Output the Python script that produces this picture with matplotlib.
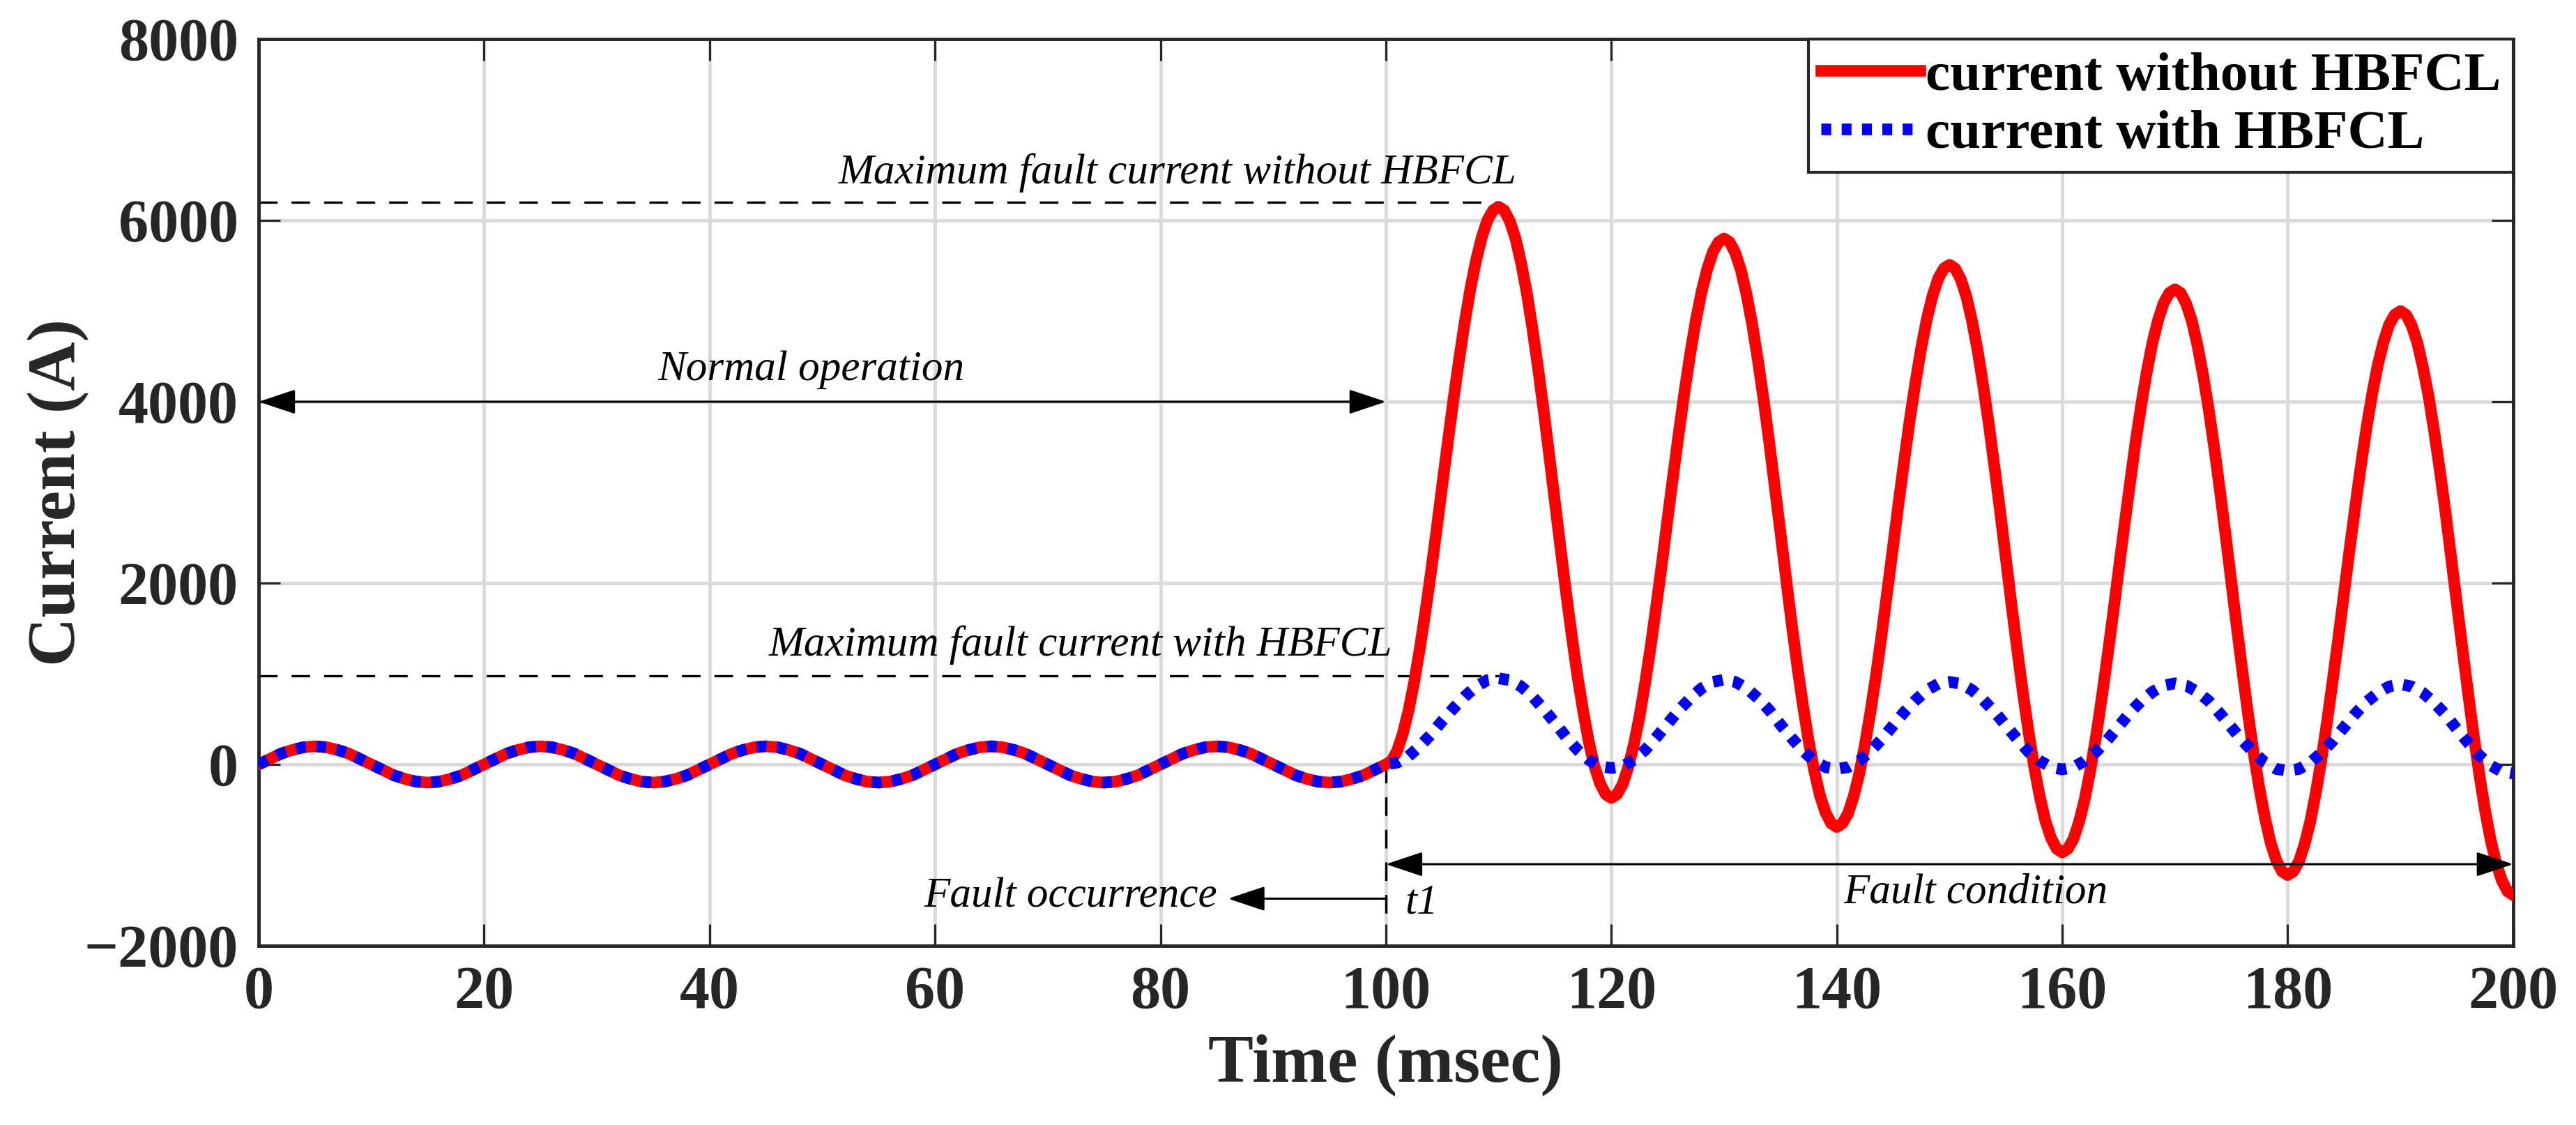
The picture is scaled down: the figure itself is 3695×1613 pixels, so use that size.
import numpy as np
import matplotlib
matplotlib.use('Agg')
import matplotlib.pyplot as plt

# --- Data (time in msec, current in A) ---
normal_time = np.arange(0, 100)  # 1 ms samples before the fault
normal_current = [
    0, 60, 120, 160, 190, 200, 190, 160, 120, 60, 0, -60, -120, -160, -190, -200, -190, -160, -120, -60,
    0, 60, 120, 160, 190, 200, 190, 160, 120, 60, 0, -60, -120, -160, -190, -200, -190, -160, -120, -60,
    0, 60, 120, 160, 190, 200, 190, 160, 120, 60, 0, -60, -120, -160, -190, -200, -190, -160, -120, -60,
    0, 60, 120, 160, 190, 200, 190, 160, 120, 60, 0, -60, -120, -160, -190, -200, -190, -160, -120, -60,
    0, 60, 120, 160, 190, 200, 190, 160, 120, 60, 0, -60, -120, -160, -190, -200, -190, -160, -120, -60,
]

# without HBFCL: read every 0.5 ms (the peaks are sharp)
fault_time_without = np.arange(100, 200.5, 0.5)
fault_current_without = [
    0,
    40, 150, 340, 590, 900, 1270, 1680, 2120, 2590, 3080, 3560, 4030, 4470, 4880, 5250, 5560, 5810, 6000, 6110, 6150,
    6110, 5990, 5800, 5530, 5200, 4810, 4370, 3900, 3400, 2890, 2380, 1880, 1410, 970, 590, 250, -20, -210, -330, -370,
    -330, -220, -30, 220, 530, 900, 1310, 1760, 2230, 2720, 3200, 3670, 4120, 4530, 4900, 5210, 5460, 5650, 5760, 5800,
    5760, 5640, 5450, 5180, 4850, 4460, 4030, 3560, 3060, 2560, 2050, 1550, 1080, 650, 260, -70, -340, -530, -650, -690,
    -650, -540, -350, -100, 220, 590, 1000, 1450, 1930, 2410, 2900, 3370, 3820, 4230, 4600, 4920, 5170, 5360, 5470, 5510,
    5470, 5350, 5160, 4890, 4560, 4170, 3740, 3270, 2780, 2270, 1760, 1270, 800, 370, -20, -350, -620, -810, -930, -970,
    -930, -820, -630, -380, -60, 310, 730, 1180, 1650, 2140, 2620, 3090, 3550, 3960, 4330, 4650, 4900, 5090, 5200, 5240,
    5200, 5080, 4890, 4620, 4290, 3910, 3480, 3010, 2520, 2010, 1500, 1010, 540, 110, -270, -600, -870, -1060, -1180, -1220,
    -1180, -1070, -880, -630, -310, 60, 480, 930, 1400, 1890, 2380, 2850, 3300, 3720, 4090, 4410, 4660, 4850, 4960, 5000,
    4960, 4840, 4650, 4380, 4060, 3670, 3240, 2780, 2280, 1780, 1280, 790, 320, -110, -500, -830, -1090, -1280, -1400, -1440,
]

# with HBFCL: read every 1 ms
fault_time_with = np.arange(100, 201)
fault_current_with = [
    0,
    20, 90, 200, 330, 480, 620, 750, 860, 930, 950,
    930, 860, 750, 610, 460, 300, 160, 50, -20, -40,
    -20, 50, 160, 300, 450, 600, 730, 840, 910, 935,
    910, 840, 730, 600, 440, 290, 150, 40, -30, -50,
    -30, 40, 150, 280, 430, 580, 710, 820, 890, 910,
    890, 820, 710, 580, 430, 280, 140, 40, -30, -55,
    -30, 40, 140, 270, 420, 570, 700, 800, 870, 895,
    870, 800, 700, 560, 410, 260, 130, 20, -50, -70,
    -50, 20, 130, 260, 410, 560, 690, 790, 860, 885,
    860, 790, 680, 550, 390, 240, 100, -10, -80, -100,
]

time_without = np.concatenate([normal_time, fault_time_without])
current_without = np.concatenate([normal_current, fault_current_without])
time_with = np.concatenate([normal_time, fault_time_with])
current_with = np.concatenate([normal_current, fault_current_with])

x_ticks = np.arange(0, 201, 20)
y_ticks = np.arange(-2000, 8001, 2000)

# levels / times used by the annotations
fault_start = 100
first_peak_time = 110
max_without_level = 6200
max_with_level = 980
normal_arrow_level = 4000
fault_arrow_level = -1100
occurrence_arrow_level = -1480
occurrence_arrow_end = 86

# --- Figure setup ---
plt.rcParams['font.family'] = ['Liberation Serif', 'DejaVu Serif']
plt.rcParams['font.weight'] = 'bold'
plt.rcParams['axes.labelweight'] = 'bold'

fig = plt.figure(figsize=(36.95, 16.13), dpi=100)
ax = fig.add_axes([0.1004, 0.1593, 0.8752, 0.806])

ax.plot(time_without, current_without, color='red', lw=12, label='current without HBFCL', zorder=3)
ax.plot(time_with, current_with, color='blue', lw=12, linestyle=(0, (0.85, 0.9)),
        label='current with HBFCL', zorder=4)

ax.set_xlim(0, 200)
ax.set_ylim(-2000, 8000)
ax.set_xticks(x_ticks)
ax.set_yticks(y_ticks)
ax.grid(True, color='#dadada', lw=3.5)
ax.set_axisbelow(True)

for spine in ax.spines.values():
    spine.set_linewidth(3.5)
    spine.set_color('#262626')
ax.tick_params(direction='in', length=22, width=2.2, top=True, right=True,
               labelsize=62, pad=21, color='#262626', labelcolor='#262626')

ax.set_xlabel('Time (msec)', fontsize=70, fontweight='bold', color='#262626')
ax.xaxis.set_label_coords(0.5, -0.097)
ax.set_ylabel('Current (A)', fontsize=70, fontweight='bold', color='#262626')
ax.yaxis.set_label_coords(-0.0751, 0.5)

# --- Annotations ---
dash = (0, (8, 6))
ax.plot([0, first_peak_time], [max_without_level] * 2, color='black', lw=2.4, ls=dash, zorder=2)
ax.plot([0, first_peak_time], [max_with_level] * 2, color='black', lw=2.4, ls=dash, zorder=2)
ax.plot([fault_start] * 2, [0, -1750], color='black', lw=2.4, ls=dash, zorder=2)

note = dict(fontsize=44, style='italic', weight='normal', color='black')
ax.text(81.5, 6405, 'Maximum fault current without HBFCL', ha='center', va='baseline', **note)
ax.text(72.9, 1200, 'Maximum fault current with HBFCL', ha='center', va='baseline', **note)
ax.text(49, 4240, 'Normal operation', ha='center', va='baseline', **note)
ax.text(72, -1570, 'Fault occurrence', ha='center', va='baseline', **note)
ax.text(101.7, -1645, 't1', ha='left', va='baseline', **note)
ax.text(152.3, -1530, 'Fault condition', ha='center', va='baseline', **note)

head = 'head_length=1.65,head_width=0.55'
arrow = dict(color='black', lw=2.2, shrinkA=0, shrinkB=0, mutation_scale=20)
ax.annotate('', xy=(0, normal_arrow_level), xytext=(fault_start, normal_arrow_level),
            arrowprops=dict(arrowstyle='<|-|>,' + head, **arrow))
ax.annotate('', xy=(200, fault_arrow_level), xytext=(fault_start, fault_arrow_level),
            arrowprops=dict(arrowstyle='<|-|>,' + head, **arrow))
ax.annotate('', xy=(occurrence_arrow_end, occurrence_arrow_level),
            xytext=(fault_start, occurrence_arrow_level),
            arrowprops=dict(arrowstyle='-|>,' + head, **arrow))

leg = ax.legend(loc='upper right', fontsize=57, borderaxespad=0, borderpad=0.22,
                labelspacing=0.14, handlelength=1.8, handletextpad=0.1,
                fancybox=False, framealpha=1, edgecolor='#262626')
leg.get_frame().set_linewidth(3)
leg.set_zorder(10)

fig.savefig('out.png', dpi=100)
